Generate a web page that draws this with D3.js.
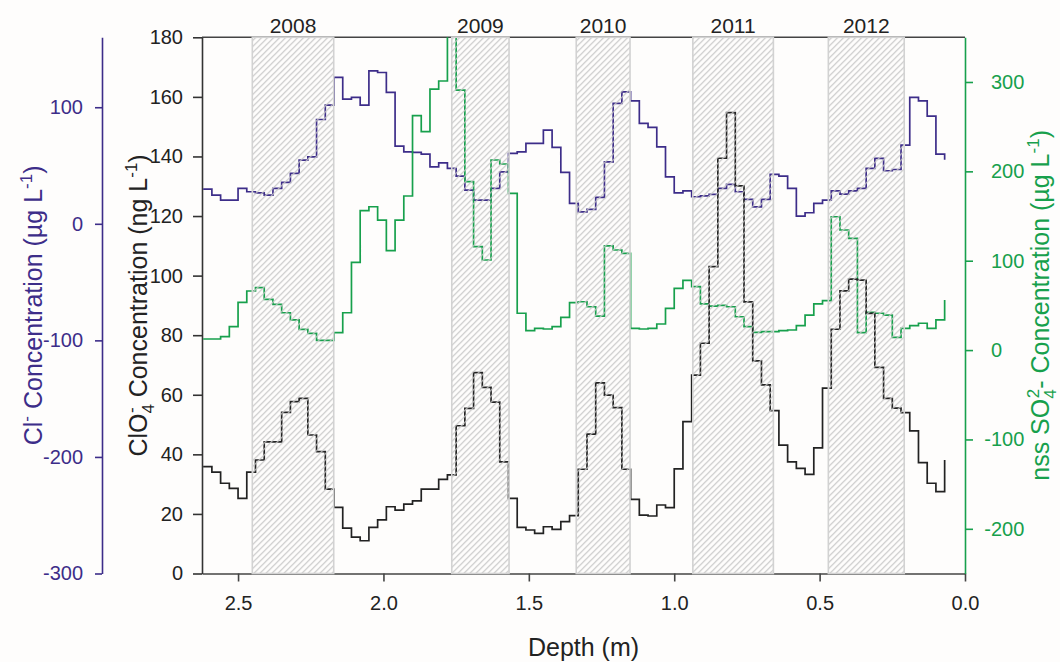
<!DOCTYPE html>
<html>
<head>
<meta charset="utf-8">
<script src="https://cdn.jsdelivr.net/npm/d3@7"></script>
<style>
  body { margin: 0; background: #fefdfc; }
  svg { display: block; font-family: Arial, "Liberation Sans", sans-serif; }
</style>
</head>
<body>
<div id="chart"></div>
<script>
// sample edges along the core (m), 3 cm samples
var depth = [2.62, 2.59, 2.56, 2.53, 2.50, 2.47, 2.44, 2.41, 2.38, 2.35, 2.32, 2.29, 2.26, 2.23, 2.20,
  2.17, 2.14, 2.11, 2.08, 2.05, 2.02, 1.99, 1.96, 1.93, 1.90, 1.87, 1.84, 1.81, 1.78, 1.75,
  1.72, 1.69, 1.66, 1.63, 1.60, 1.57, 1.54, 1.51, 1.48, 1.45, 1.42, 1.39, 1.36, 1.33, 1.30,
  1.27, 1.24, 1.21, 1.18, 1.15, 1.12, 1.09, 1.06, 1.03, 1.00, 0.97, 0.94, 0.91, 0.88, 0.85,
  0.82, 0.79, 0.76, 0.73, 0.70, 0.67, 0.64, 0.61, 0.58, 0.55, 0.52, 0.49, 0.46, 0.43, 0.40,
  0.37, 0.34, 0.31, 0.28, 0.25, 0.22, 0.19, 0.16, 0.13, 0.10, 0.07];

// Cl- (ug/L)
var chloride = [29.8, 24.6, 20.3, 20.3, 30.4, 27.5, 26.6, 24.6, 30.4, 35.5, 43.2, 54.6, 57.5, 89.5, 101.8,
  125.6, 106.9, 108.4, 101.8, 131.2, 129.8, 112.7, 66.6, 61.7, 61.2, 59.8, 48.9, 52.3, 47.5, 40.9,
  28.9, 20.3, 20.3, 30.4, 44.6, 60.4, 61.7, 69.0, 69.0, 80.4, 65.5, 44.1, 17.5, 10.3, 12.3,
  22.6, 53.2, 103.3, 113.2, 105.5, 86.1, 82.7, 66.0, 40.3, 26.6, 28.3, 23.2, 24.0, 25.2, 30.4,
  33.8, 27.5, 20.9, 14.6, 20.9, 42.4, 40.9, 30.4, 6.6, 9.5, 17.5, 20.3, 28.3, 25.5, 28.3,
  30.4, 47.5, 56.1, 45.5, 46.6, 67.5, 108.4, 105.5, 92.4, 59.8, 55.0];

// nss SO4 2- (ug/L)
var sulfate = [12.4, 12.4, 15.0, 26.2, 53.4, 66.1, 69.8, 56.8, 51.2, 41.8, 33.7, 23.2, 18.8, 10.9, 10.9,
  19.5, 41.8, 98.2, 156.0, 160.4, 145.5, 111.2, 145.5, 172.4, 262.3, 244.4, 292.1, 301.1, 420.0, 291.0,
  188.4, 115.7, 100.8, 212.7, 208.2, 175.4, 41.2, 21.7, 24.3, 23.6, 26.2, 36.7, 53.0, 54.1, 48.5,
  38.1, 116.5, 112.0, 108.3, 24.3, 23.6, 24.3, 29.2, 46.7, 69.1, 78.0, 71.0, 51.6, 49.3, 50.0,
  48.5, 37.3, 26.2, 19.9, 20.6, 20.6, 21.7, 22.5, 27.3, 39.2, 51.6, 55.3, 149.2, 134.4, 125.1,
  19.5, 42.3, 41.2, 39.2, 14.3, 24.3, 27.3, 30.0, 24.3, 33.7, 56.0];

// ClO4- (ng/L)
var perchlorate = [35.9, 34.0, 30.3, 28.6, 25.2, 34.0, 38.1, 44.2, 44.2, 54.1, 57.7, 58.8, 46.5, 40.9, 28.3,
  22.2, 15.2, 12.2, 11.0, 15.5, 18.0, 22.4, 21.3, 23.3, 24.4, 28.3, 28.3, 31.6, 33.1, 49.6,
  55.4, 67.4, 62.5, 57.5, 37.5, 25.2, 15.5, 14.6, 13.5, 15.7, 14.8, 17.4, 19.4, 35.0, 46.8,
  64.0, 59.9, 55.7, 35.0, 24.9, 19.6, 19.3, 23.0, 22.1, 35.1, 51.0, 66.6, 77.3, 103.0, 139.4,
  154.7, 130.1, 91.2, 71.4, 63.3, 54.7, 43.1, 37.5, 35.3, 33.3, 42.2, 62.2, 82.0, 94.9, 98.8,
  98.5, 87.3, 69.2, 58.8, 55.5, 54.0, 47.9, 37.2, 30.3, 27.5, 38.1];

// shaded years (depth range, m)
var years = ["2008", "2009", "2010", "2011", "2012"];
var yearTop = [2.451, 1.765, 1.337, 0.936, 0.470];
var yearBottom = [2.171, 1.568, 1.152, 0.659, 0.209];

var depthTicks = [2.5, 2.0, 1.5, 1.0, 0.5, 0.0];
var clo4Ticks = [0, 20, 40, 60, 80, 100, 120, 140, 160, 180];
var clTicks = [-300, -200, -100, 0, 100];
var so4Ticks = [-200, -100, 0, 100, 200, 300];

var purple = "#3d2d89";
var green = "#17a04c";
var dark = "#222";

var svgWidth = 1060;
var svgHeight = 662;
var margin = { top: 37.3, right: 95, bottom: 88.5, left: 202 };
var width = svgWidth - margin.left - margin.right;
var height = svgHeight - margin.top - margin.bottom;

var svg = d3.select("#chart")
  .append("svg")
  .attr("width", svgWidth)
  .attr("height", svgHeight);

var defs = svg.append("defs");
defs.append("clipPath").attr("id", "plotClip")
  .append("rect").attr("width", width).attr("height", height);

var hatch = defs.append("pattern")
  .attr("id", "hatch")
  .attr("patternUnits", "userSpaceOnUse")
  .attr("width", 6).attr("height", 6);
hatch.append("path")
  .attr("d", "M0,6 L6,0 M-1,1 L1,-1 M5,7 L7,5")
  .attr("stroke", "#c6c6c6")
  .attr("stroke-width", 1.2);

var chartGroup = svg.append("g")
  .attr("transform", `translate(${margin.left}, ${margin.top})`);

// scales
var xScale = d3.scaleLinear().domain([2.624, 0]).range([0, width]);
var yClO4 = d3.scaleLinear().domain([0, 180]).range([height, 0]);
var yCl = d3.scaleLinear().domain([-300, 160]).range([height, 0]);
var ySO4 = d3.scaleLinear().domain([-250, 350]).range([height, 0]);

function styleAxis(g, color, size) {
  g.select(".domain").attr("stroke", color).attr("stroke-width", 1.6);
  g.selectAll(".tick line").attr("stroke", color).attr("stroke-width", 1.6);
  g.selectAll(".tick text").attr("fill", color).attr("font-size", size);
  g.attr("font-family", null);
}

// top frame line
chartGroup.append("line")
  .attr("x1", 0).attr("x2", width).attr("y1", 0).attr("y2", 0)
  .attr("stroke", "#444").attr("stroke-width", 1.6);

// axes
var xAxis = d3.axisBottom(xScale).tickValues(depthTicks).tickFormat(d3.format(".1f"))
  .tickSizeInner(8).tickSizeOuter(0).tickPadding(14);
chartGroup.append("g")
  .attr("transform", `translate(0, ${height})`)
  .call(xAxis)
  .call(g => styleAxis(g, "#444", 20))
  .call(g => g.selectAll(".tick text").attr("fill", dark));

var clo4Axis = d3.axisLeft(yClO4).tickValues(clo4Ticks).tickSizeInner(9).tickSizeOuter(0).tickPadding(10);
chartGroup.append("g")
  .call(clo4Axis)
  .call(g => styleAxis(g, "#333", 20))
  .call(g => g.selectAll(".tick text").attr("fill", dark));

var clAxis = d3.axisLeft(yCl).tickValues(clTicks).tickFormat(d => String(d))
  .tickSizeInner(7).tickSizeOuter(0).tickPadding(12);
chartGroup.append("g")
  .attr("transform", "translate(-100, 0)")
  .call(clAxis)
  .call(g => styleAxis(g, purple, 20));

var so4Axis = d3.axisRight(ySO4).tickValues(so4Ticks).tickFormat(d => String(d))
  .tickSizeInner(8).tickSizeOuter(0).tickPadding(18);
chartGroup.append("g")
  .attr("transform", `translate(${width}, 0)`)
  .call(so4Axis)
  .call(g => styleAxis(g, green, 20))
  .call(g => g.selectAll(".tick text").attr("dx", d => d < 0 ? "-0.333em" : 0));

// step lines
function stepPath(yScale, values) {
  return d3.line()
    .x((d, i) => xScale(depth[i]))
    .y(d => yScale(d))
    .curve(d3.curveStepAfter)(values);
}

var lines = chartGroup.append("g").attr("clip-path", "url(#plotClip)");
lines.append("path").attr("d", stepPath(yCl, chloride))
  .attr("fill", "none").attr("stroke", purple).attr("stroke-width", 1.7);
lines.append("path").attr("d", stepPath(ySO4, sulfate))
  .attr("fill", "none").attr("stroke", green).attr("stroke-width", 1.7);
lines.append("path").attr("d", stepPath(yClO4, perchlorate))
  .attr("fill", "none").attr("stroke", dark).attr("stroke-width", 1.7);

// hatched year bands drawn on top
var bands = chartGroup.selectAll(".band")
  .data(years)
  .enter()
  .append("g");
bands.append("rect")
  .attr("x", (d, i) => xScale(yearTop[i]))
  .attr("y", 0)
  .attr("width", (d, i) => xScale(yearBottom[i]) - xScale(yearTop[i]))
  .attr("height", height)
  .attr("fill", "url(#hatch)")
  .attr("stroke", "#d2d2d2")
  .attr("stroke-width", 1.6);
bands.append("text")
  .attr("x", (d, i) => (xScale(yearTop[i]) + xScale(yearBottom[i])) / 2)
  .attr("y", -4.5)
  .attr("text-anchor", "middle")
  .attr("font-size", 21)
  .attr("fill", dark)
  .text(d => d);

// axis titles with sub/superscripts
function richText(sel, parts, base) {
  var shift = 0;
  parts.forEach(function(p) {
    var target = p[1] === "sub" ? 0.27 : p[1] === "sup" ? -0.42 : 0;
    var ts = sel.append("tspan").text(p[0]).attr("dy", (target - shift) * base);
    if (p[1]) ts.attr("font-size", base * 0.68);
    if (p[2]) ts.attr("dx", p[2]);
    shift = target;
  });
}

var clTitle = chartGroup.append("text")
  .attr("transform", `translate(-160, ${height / 2}) rotate(-90)`)
  .attr("text-anchor", "middle").attr("font-size", 25).attr("fill", purple);
richText(clTitle, [["Cl", ""], ["-", "sup"], [" Concentration (\u00b5g L", ""], ["-1", "sup"], [")", ""]], 25);

var clo4Title = chartGroup.append("text")
  .attr("transform", `translate(-55, ${height / 2}) rotate(-90)`)
  .attr("text-anchor", "middle").attr("font-size", 25).attr("fill", dark);
richText(clo4Title, [["ClO", ""], ["4", "sub"], ["-", "sup", -9], [" Concentration (ng L", "", 3], ["-1", "sup"], [")", ""]], 25);

var so4Title = chartGroup.append("text")
  .attr("transform", `translate(${width + 84}, ${height / 2}) rotate(-90)`)
  .attr("text-anchor", "middle").attr("font-size", 25).attr("fill", green);
richText(so4Title, [["nss SO", ""], ["4", "sub"], ["2", "sup", -9], ["- Concentration (\u00b5g L", ""], ["-1", "sup"], [")", ""]], 25);

chartGroup.append("text")
  .attr("x", width / 2)
  .attr("y", height + 82.5)
  .attr("text-anchor", "middle")
  .attr("font-size", 25)
  .attr("fill", dark)
  .text("Depth (m)");
</script>
</body>
</html>
